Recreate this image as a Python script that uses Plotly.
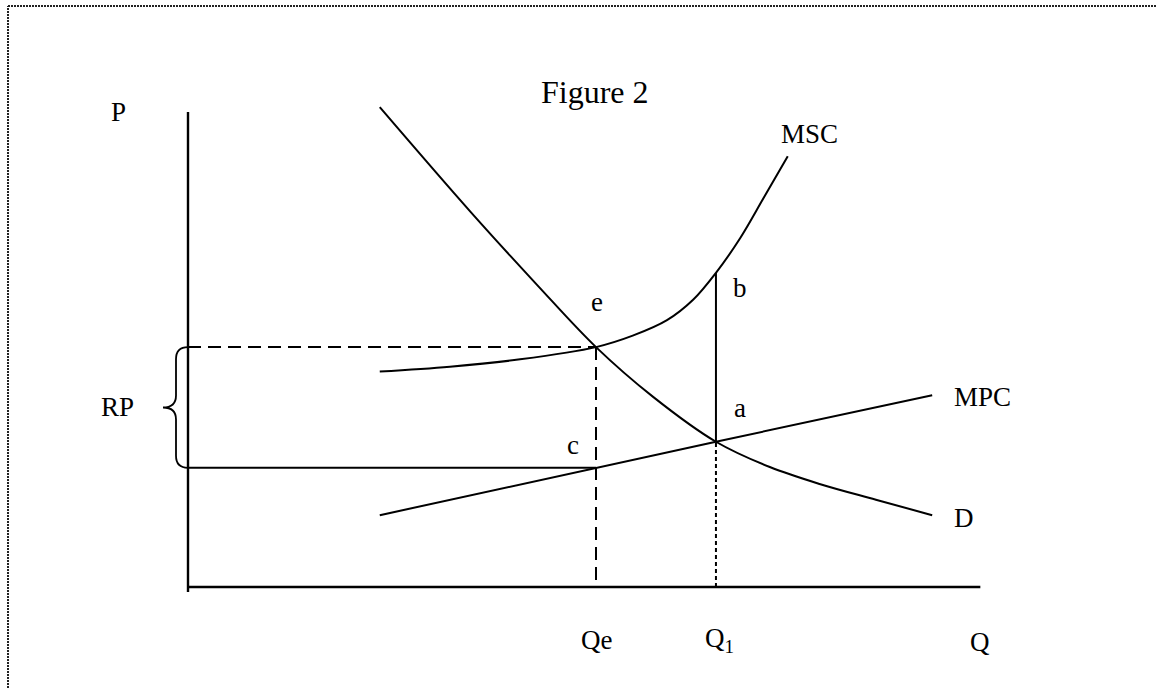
import plotly.graph_objects as go

# quantities and prices, in diagram units (origin at the axes corner)
QE = 5.0       # efficient quantity
Q1 = 6.47      # market quantity
P_E = 2.94     # point e
P_C = 1.46     # point c (MPC at Qe)
P_A = 1.78     # point a (MPC = D at Q1)
P_B = 3.85     # point b (MSC at Q1)

Q_AXIS_END = 9.71
P_AXIS_TOP = 5.82

d_q = [2.35, 3.46, 4.28, 5.0, 5.70, 6.47, 7.13, 7.75, 8.43, 9.12]
d_p = [5.88, 4.60, 3.70, 2.94, 2.33, 1.78, 1.47, 1.26, 1.07, 0.88]

msc_q = [2.35, 3.21, 4.07, 5.0, 5.45, 5.87, 6.19, 6.47, 6.77, 7.05, 7.35]
msc_p = [2.64, 2.70, 2.79, 2.94, 3.08, 3.27, 3.52, 3.85, 4.28, 4.76, 5.28]

mpc_q = [2.35, 5.0, 6.47, 9.12]
mpc_p = [0.88, 1.46, 1.78, 2.35]

FONT = "Liberation Serif, Times New Roman, serif"
W, H = 1156, 688
SCALE = 81.6                 # pixels per unit
ORIGIN_X, ORIGIN_Y = 188, 587

fig = go.Figure()


def add_line(xs, ys, width=2.0, dash="solid", shape="linear"):
    fig.add_trace(
        go.Scatter(
            x=xs,
            y=ys,
            mode="lines",
            line=dict(color="black", width=width, dash=dash, shape=shape, smoothing=1.0),
            hoverinfo="skip",
            showlegend=False,
        )
    )


# axes
add_line([0, 0], [-0.06, P_AXIS_TOP], width=2.4)
add_line([0, Q_AXIS_END], [0, 0], width=2.4)

# curves
add_line(d_q, d_p, shape="spline")
add_line(msc_q, msc_p, shape="spline")
add_line(mpc_q, mpc_p)

# guide lines
add_line([0, QE], [P_E, P_E], dash="13px,7px")
add_line([QE, QE], [P_E, 0], dash="13px,7px")
add_line([0, QE], [P_C, P_C])
add_line([Q1, Q1], [P_A, P_B])
add_line([Q1, Q1], [0, P_A], dash="4px,3px")

# brace for RP, between P_C and P_E
xb = -12 / SCALE
tip = -25 / SCALE
r = 12 / SCALE
mid = (P_E + P_C) / 2
brace = (
    f"M 0,{P_E} Q {xb},{P_E} {xb},{P_E - r} L {xb},{mid + r} "
    f"Q {xb},{mid} {tip},{mid} Q {xb},{mid} {xb},{mid - r} "
    f"L {xb},{P_C + r} Q {xb},{P_C} 0,{P_C}"
)
shapes = [
    dict(type="path", path=brace, xref="x", yref="y", line=dict(color="black", width=1.8)),
    # dotted frame (left and top edges)
    dict(type="line", xref="paper", yref="paper", x0=8 / W, x1=8 / W, y0=0, y1=1 - 6 / H,
         line=dict(color="#222", width=2, dash="2px,1px")),
    dict(type="line", xref="paper", yref="paper", x0=8 / W, x1=1, y0=1 - 6 / H, y1=1 - 6 / H,
         line=dict(color="#222", width=2, dash="2px,1px")),
]

labels = [
    ("P", 0, P_AXIS_TOP, -70, 0, "center"),
    ("RP", 0, mid, -71, 0, "center"),
    ("e", QE, P_E, 1, 45, "center"),
    ("c", QE, P_C, -23, 23, "center"),
    ("b", Q1, P_B, 24, -15, "center"),
    ("a", Q1, P_A, 24, 34, "center"),
    ("MSC", msc_q[-1], msc_p[-1], 22, 22, "center"),
    ("MPC", mpc_q[-1], mpc_p[-1], 20, -2, "left"),
    ("D", d_q[-1], d_p[-1], 20, -3, "left"),
    ("Qe", QE, 0, 0, -53, "center"),
    ("Q<sub>1</sub>", Q1, 0, 4, -53, "center"),
    ("Q", Q_AXIS_END, 0, 0, -55, "center"),
]
annotations = [
    dict(text=t, x=x, y=y, xref="x", yref="y", xshift=dx, yshift=dy, xanchor=anc,
         showarrow=False, font=dict(family=FONT, size=27, color="black"))
    for t, x, y, dx, dy, anc in labels
]
annotations.append(
    dict(text="Figure 2", x=595 / W, y=1 - 72 / H, xref="paper", yref="paper",
         showarrow=False, font=dict(family=FONT, size=32, color="black"))
)

fig.update_layout(
    width=W,
    height=H,
    margin=dict(l=0, r=0, t=0, b=0),
    paper_bgcolor="white",
    plot_bgcolor="white",
    xaxis=dict(range=[-ORIGIN_X / SCALE, (W - ORIGIN_X) / SCALE], visible=False),
    yaxis=dict(range=[-(H - ORIGIN_Y) / SCALE, ORIGIN_Y / SCALE], visible=False),
    shapes=shapes,
    annotations=annotations,
)

# the page body has a default 8px margin; drop it so the figure sits at the corner
fig.write_html(
    "out.html",
    config={"displayModeBar": False},
    post_script="document.body.style.margin = '0';",
)
